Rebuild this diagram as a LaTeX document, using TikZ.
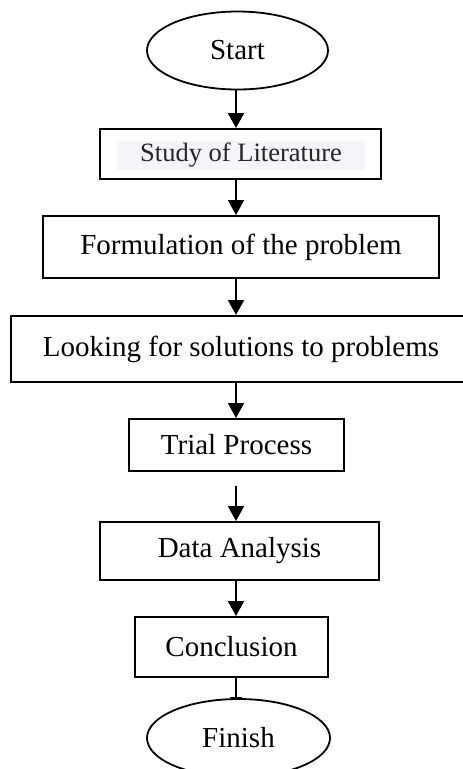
\documentclass[tikz,border=0pt]{standalone}
\usepackage{fontspec}
\setmainfont{Liberation Serif}
\usetikzlibrary{shapes.geometric,arrows.meta,calc}
\definecolor{stbg}{HTML}{F4F5F8}
\definecolor{sttext}{HTML}{262626}
\tikzset{
  every picture/.style={x=1pt,y=-1pt},
  boxnode/.style={draw=black,line width=2pt,rectangle,inner sep=0pt,
    font=\fontsize{29}{34}\selectfont},
  ovalnode/.style={draw=black,line width=1.8pt,ellipse,inner sep=0pt,
    font=\fontsize{29}{34}\selectfont},
  arr/.style={line width=2pt,-{Triangle[length=15pt,width=16pt]}},
  plainline/.style={line width=2pt,-{Bar[width=12pt,line width=1.5pt]}}
}
\begin{document}
\begin{tikzpicture}
\useasboundingbox (0,0) rectangle (463,769);
\coordinate (ax) at (236,0);
\node[ovalnode,minimum width=181pt,minimum height=78pt] (start) at (237.5,50.5) {Start};
\node[boxnode,minimum width=281pt,minimum height=50pt] (study) at (240.5,154) {};
\node[fill=stbg,inner sep=0pt,minimum width=248pt,minimum height=29pt,text=sttext,
  font=\fontsize{26.5}{30}\selectfont] (studytxt) at (241,155) {Study of Literature};
\node[boxnode,minimum width=396pt,minimum height=62pt] (form) at (241,247) {Formulation of the problem};
\node[boxnode,minimum width=460pt,minimum height=66pt,anchor=west] (look) at (10,349) {Looking for solutions to problems};
\node[boxnode,minimum width=215pt,minimum height=52pt] (trial) at (236.5,445) {Trial Process};
\node[boxnode,minimum width=279pt,minimum height=58pt] (data) at (239.5,551) {Data Analysis};
\node[boxnode,minimum width=193pt,minimum height=60pt] (conc) at (231.5,647) {Conclusion};
\node[ovalnode,minimum width=183pt,minimum height=78pt] (finish) at (238.5,738) {Finish};
\draw[arr] (start.south -| ax) -- (study.north -| ax);
\draw[arr] (study.south -| ax) -- (form.north -| ax);
\draw[arr] (form.south -| ax) -- (look.north -| ax);
\draw[arr] (look.south -| ax) -- (trial.north -| ax);
\draw[arr] ($(trial.south -| ax)+(0,14)$) -- (data.north -| ax);
\draw[arr] (data.south -| ax) -- (conc.north -| ax);
\draw[plainline] (conc.south -| ax) -- (finish.north -| ax);
\end{tikzpicture}
\end{document}
